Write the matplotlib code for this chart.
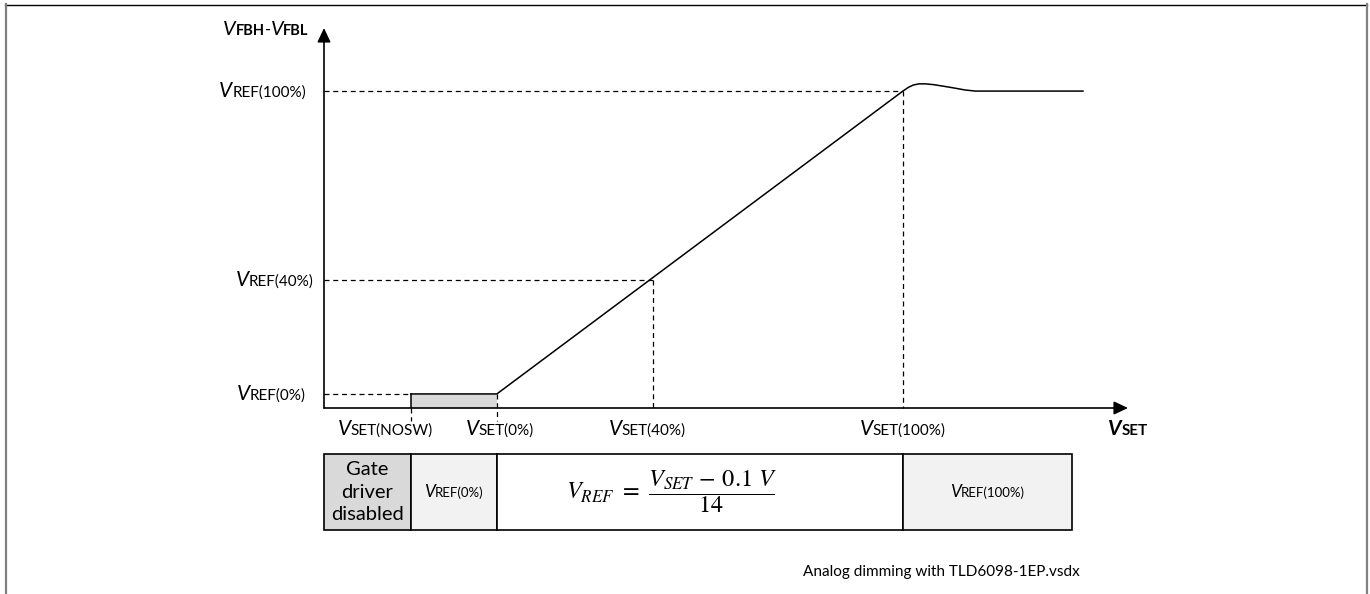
import matplotlib
matplotlib.use("Agg")
import matplotlib.pyplot as plt
from matplotlib.offsetbox import TextArea, HPacker, AnnotationBbox
from matplotlib.patches import Rectangle
from matplotlib.lines import Line2D

plt.rcParams['font.family'] = ['Lato', 'DejaVu Sans']
plt.rcParams['mathtext.fontset'] = 'stix'

# ---- data (schematic units, x: V_SET axis 0..10, y: V_FBH-V_FBL axis 0..10)
vset_names = ["NOSW", "0%", "40%", "100%"]
vset_x = [1.08, 2.15, 4.09, 7.20]
vref_names = ["0%", "40%", "100%"]
vref_y = [0.37, 3.37, 8.34]
vref_at = [1.08, 4.09, 7.20]          # where each V_REF level meets the curve

curve_x = [1.08, 2.15, 7.20, 7.27, 7.33, 7.40, 7.48, 7.58, 7.70, 7.84, 7.97, 8.10, 9.44]
curve_y = [0.37, 0.37, 8.34, 8.44, 8.50, 8.53, 8.53, 8.51, 8.47, 8.42, 8.37, 8.34, 8.34]

col_edges = [0, 1.08, 2.15, 7.20, 9.30]
col_fill = ["#d9d9d9", "#f2f2f2", "#ffffff", "#f2f2f2"]

W, H = 1370, 594
fig = plt.figure(figsize=(13.7, 5.94), dpi=100)


def px(x0, y0, x1, y1):
    return [x0 / W, 1 - y1 / H, (x1 - x0) / W, (y1 - y0) / H]


def vlabel(parts, xy, xycoords, offset=(0, 0), align=(0.5, 0.5)):
    areas = [TextArea(t, textprops=p) for t, p in parts]
    box = HPacker(children=areas, align="baseline", pad=0, sep=0)
    ab = AnnotationBbox(box, xy, xycoords=xycoords, xybox=offset,
                        boxcoords="offset points", box_alignment=align,
                        frameon=False, pad=0, annotation_clip=False)
    fig.add_artist(ab)


V = dict(fontsize=15, style="italic")
S = dict(fontsize=11)

ax = fig.add_axes(px(324, 28, 1128, 408))
ax.set_xlim(0, 10)
ax.set_ylim(0, 10)
ax.axis("off")

arrow = dict(arrowstyle="-|>,head_length=0.85,head_width=0.4", mutation_scale=10,
             color="black", lw=1.2, shrinkA=0, shrinkB=0)
ax.annotate("", xy=(10, 0), xytext=(0, 0), arrowprops=arrow, annotation_clip=False)
ax.annotate("", xy=(0, 10), xytext=(0, 0), arrowprops=arrow, annotation_clip=False)

dash = dict(color="black", lw=0.9, dashes=(4, 3), clip_on=False)
for y, x in zip(vref_y, vref_at):
    ax.plot([0, x], [y, y], **dash)
ax.plot([vset_x[2], vset_x[2]], [vref_y[1], 0], **dash)
ax.plot([vset_x[3], vset_x[3]], [vref_y[2], 0], **dash)
ax.plot([vset_x[0], vset_x[0]], [0, -0.34], **dash)
ax.plot([vset_x[1], vset_x[1]], [vref_y[0], -0.34], **dash)

ax.fill_between(vset_x[:2], 0, vref_y[0], color="#d9d9d9", lw=0)
ax.plot([vset_x[0], vset_x[0]], [0, vref_y[0]], color="black", lw=1.1)
ax.plot(curve_x, curve_y, color="black", lw=1.1, clip_on=False)

# axis labels
label_dx = [16, 2, -4, 0]
label_align = [(1, 0.5), (0.5, 0.5), (0.5, 0.5), (0.5, 0.5)]
for name, x, dx, al in zip(vset_names, vset_x, label_dx, label_align):
    vlabel([("V", V), ("SET(" + name + ")", S)], (x, 0), ax.transData,
           offset=(dx, -15), align=al)

ref_dx = [-13, -7.5, -13]
for name, y, dx in zip(vref_names, vref_y, ref_dx):
    vlabel([("V", V), ("REF(" + name + ")", S)], (0, y), ax.transData,
           offset=(dx, 0), align=(1, 0.5))

B = dict(fontsize=11, weight="bold")
vlabel([("V", dict(fontsize=15, style="italic", weight="bold")), ("SET", B)],
       (10, 0), ax.transData, offset=(0, -15), align=(0.5, 0.5))
vlabel([("V", dict(fontsize=14.5, style="italic")), ("FBH", dict(fontsize=10.5, weight="bold")),
        ("-", dict(fontsize=12)),
        ("V", dict(fontsize=14.5, style="italic")), ("FBL", dict(fontsize=10.5, weight="bold"))],
       (0, 10), ax.transData, offset=(-11, -1), align=(1, 0.5))

# ---- table below the axis
tab = fig.add_axes(px(324, 454, 1128, 530))
tab.set_xlim(0, 10)
tab.set_ylim(0, 1)
tab.axis("off")
for x0, x1, c in zip(col_edges[:-1], col_edges[1:], col_fill):
    tab.add_patch(Rectangle((x0, 0), x1 - x0, 1, facecolor=c, edgecolor="black",
                            lw=1.2, clip_on=False))

mids = [(a + b) / 2 for a, b in zip(col_edges[:-1], col_edges[1:])]
tab.text(mids[0], 0.5, "Gate\ndriver\ndisabled", ha="center", va="center",
         fontsize=14.5, linespacing=1.4)
vlabel([("V", dict(fontsize=12.5, style="italic")), ("REF(0%)", dict(fontsize=9.5))],
       (mids[1], 0.5), tab.transData)
vlabel([("V", dict(fontsize=12.5, style="italic")), ("REF(100%)", dict(fontsize=9.5))],
       (mids[3], 0.5), tab.transData)
tab.text(4.32, 0.5, r"$V_{REF}\ =\ \dfrac{V_{SET}\,-\,0.1\ V}{14}$", ha="center",
         va="center", fontsize=17.5)

# ---- frame and file name
fig.add_artist(Line2D([5 / W, 1367 / W], [1 - 4.5 / H] * 2, color="black", lw=1.0))
fig.add_artist(Line2D([6 / W] * 2, [0, 1 - 4 / H], color="#808080", lw=1.6))
fig.add_artist(Line2D([1366.5 / W] * 2, [0, 1 - 4 / H], color="#808080", lw=1.6))
fig.text(803 / W, 1 - 572 / H, "Analog dimming with TLD6098-1EP.vsdx", fontsize=11,
         va="center", ha="left")

fig.savefig("out.png", dpi=100, facecolor="white")
